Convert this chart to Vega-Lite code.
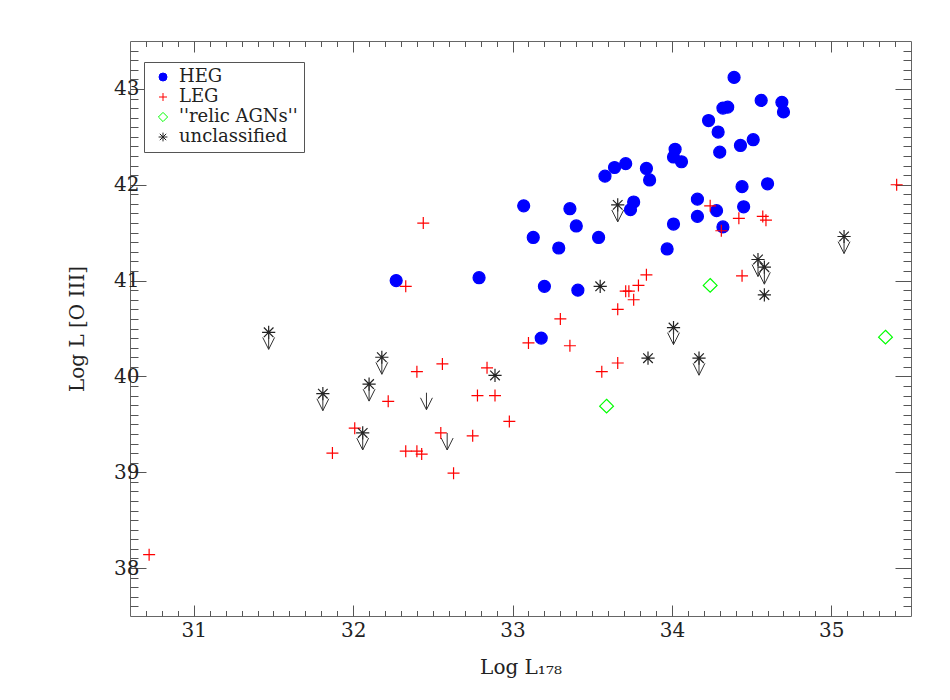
{
  "$schema": "https://vega.github.io/schema/vega-lite/v6.json",
  "autosize": "none",
  "width": 781,
  "height": 575,
  "padding": {"left": 130, "top": 41, "right": 39, "bottom": 84},
  "background": "white",
  "config": {
    "view": {"stroke": "#666", "strokeWidth": 1},
    "axis": {"grid": false, "domain": false, "tickColor": "#555", "tickWidth": 1, "labelFont": "DejaVu Serif", "labelFontSize": 20, "labelColor": "#222", "titleFont": "DejaVu Serif", "titleFontSize": 20, "titleFontWeight": "normal", "titleColor": "#222", "labelOverlap": false, "labelFlush": false}
  },
  "datasets": {
    "pts": [
      {"x":32.27,"y":41.00,"cls":"HEG","lim":"n"},{"x":32.79,"y":41.03,"cls":"HEG","lim":"n"},{"x":33.07,"y":41.78,"cls":"HEG","lim":"n"},{"x":33.13,"y":41.45,"cls":"HEG","lim":"n"},{"x":33.18,"y":40.40,"cls":"HEG","lim":"n"},{"x":33.20,"y":40.94,"cls":"HEG","lim":"n"},{"x":33.29,"y":41.34,"cls":"HEG","lim":"n"},{"x":33.36,"y":41.75,"cls":"HEG","lim":"n"},{"x":33.40,"y":41.57,"cls":"HEG","lim":"n"},{"x":33.41,"y":40.90,"cls":"HEG","lim":"n"},{"x":33.54,"y":41.45,"cls":"HEG","lim":"n"},{"x":33.58,"y":42.09,"cls":"HEG","lim":"n"},{"x":33.64,"y":42.18,"cls":"HEG","lim":"n"},{"x":33.71,"y":42.22,"cls":"HEG","lim":"n"},{"x":33.74,"y":41.74,"cls":"HEG","lim":"n"},{"x":33.76,"y":41.82,"cls":"HEG","lim":"n"},{"x":33.84,"y":42.17,"cls":"HEG","lim":"n"},{"x":33.86,"y":42.05,"cls":"HEG","lim":"n"},{"x":33.97,"y":41.33,"cls":"HEG","lim":"n"},{"x":34.01,"y":42.29,"cls":"HEG","lim":"n"},{"x":34.02,"y":42.37,"cls":"HEG","lim":"n"},{"x":34.01,"y":41.59,"cls":"HEG","lim":"n"},{"x":34.06,"y":42.24,"cls":"HEG","lim":"n"},{"x":34.16,"y":41.67,"cls":"HEG","lim":"n"},{"x":34.16,"y":41.85,"cls":"HEG","lim":"n"},{"x":34.23,"y":42.67,"cls":"HEG","lim":"n"},{"x":34.28,"y":41.73,"cls":"HEG","lim":"n"},{"x":34.29,"y":42.55,"cls":"HEG","lim":"n"},{"x":34.30,"y":42.34,"cls":"HEG","lim":"n"},{"x":34.32,"y":41.56,"cls":"HEG","lim":"n"},{"x":34.32,"y":42.80,"cls":"HEG","lim":"n"},{"x":34.35,"y":42.81,"cls":"HEG","lim":"n"},{"x":34.39,"y":43.12,"cls":"HEG","lim":"n"},{"x":34.43,"y":42.41,"cls":"HEG","lim":"n"},{"x":34.44,"y":41.98,"cls":"HEG","lim":"n"},{"x":34.45,"y":41.77,"cls":"HEG","lim":"n"},{"x":34.51,"y":42.47,"cls":"HEG","lim":"n"},{"x":34.56,"y":42.88,"cls":"HEG","lim":"n"},{"x":34.60,"y":42.01,"cls":"HEG","lim":"n"},{"x":34.69,"y":42.86,"cls":"HEG","lim":"n"},{"x":34.70,"y":42.76,"cls":"HEG","lim":"n"},
      {"x":30.72,"y":38.14,"cls":"LEG","lim":"n"},{"x":31.87,"y":39.20,"cls":"LEG","lim":"n"},{"x":32.01,"y":39.46,"cls":"LEG","lim":"n"},{"x":32.22,"y":39.74,"cls":"LEG","lim":"n"},{"x":32.33,"y":40.94,"cls":"LEG","lim":"n"},{"x":32.33,"y":39.22,"cls":"LEG","lim":"n"},{"x":32.40,"y":39.22,"cls":"LEG","lim":"n"},{"x":32.40,"y":40.05,"cls":"LEG","lim":"n"},{"x":32.43,"y":39.19,"cls":"LEG","lim":"n"},{"x":32.44,"y":41.60,"cls":"LEG","lim":"n"},{"x":32.55,"y":39.41,"cls":"LEG","lim":"n"},{"x":32.56,"y":40.13,"cls":"LEG","lim":"n"},{"x":32.63,"y":38.99,"cls":"LEG","lim":"n"},{"x":32.75,"y":39.38,"cls":"LEG","lim":"n"},{"x":32.78,"y":39.80,"cls":"LEG","lim":"n"},{"x":32.84,"y":40.09,"cls":"LEG","lim":"n"},{"x":32.89,"y":39.80,"cls":"LEG","lim":"n"},{"x":32.98,"y":39.53,"cls":"LEG","lim":"n"},{"x":33.10,"y":40.35,"cls":"LEG","lim":"n"},{"x":33.30,"y":40.60,"cls":"LEG","lim":"n"},{"x":33.36,"y":40.32,"cls":"LEG","lim":"n"},{"x":33.56,"y":40.05,"cls":"LEG","lim":"n"},{"x":33.66,"y":40.14,"cls":"LEG","lim":"n"},{"x":33.66,"y":40.70,"cls":"LEG","lim":"n"},{"x":33.71,"y":40.89,"cls":"LEG","lim":"n"},{"x":33.73,"y":40.89,"cls":"LEG","lim":"n"},{"x":33.76,"y":40.80,"cls":"LEG","lim":"n"},{"x":33.79,"y":40.95,"cls":"LEG","lim":"n"},{"x":33.84,"y":41.06,"cls":"LEG","lim":"n"},{"x":34.24,"y":41.78,"cls":"LEG","lim":"n"},{"x":34.31,"y":41.52,"cls":"LEG","lim":"n"},{"x":34.42,"y":41.65,"cls":"LEG","lim":"n"},{"x":34.44,"y":41.05,"cls":"LEG","lim":"n"},{"x":34.57,"y":41.67,"cls":"LEG","lim":"n"},{"x":34.59,"y":41.63,"cls":"LEG","lim":"n"},{"x":35.41,"y":42.00,"cls":"LEG","lim":"n"},
      {"x":33.59,"y":39.69,"cls":"''relic AGNs''","lim":"n"},{"x":34.24,"y":40.95,"cls":"''relic AGNs''","lim":"n"},{"x":35.34,"y":40.41,"cls":"''relic AGNs''","lim":"n"},
      {"x":31.47,"y":40.46,"cls":"unclassified","lim":"a"},{"x":31.81,"y":39.82,"cls":"unclassified","lim":"a"},{"x":32.06,"y":39.41,"cls":"unclassified","lim":"a"},{"x":32.10,"y":39.92,"cls":"unclassified","lim":"a"},{"x":32.18,"y":40.20,"cls":"unclassified","lim":"a"},{"x":33.66,"y":41.79,"cls":"unclassified","lim":"a"},{"x":34.01,"y":40.51,"cls":"unclassified","lim":"a"},{"x":34.17,"y":40.19,"cls":"unclassified","lim":"a"},{"x":34.54,"y":41.22,"cls":"unclassified","lim":"a"},{"x":34.58,"y":41.14,"cls":"unclassified","lim":"a"},{"x":35.08,"y":41.46,"cls":"unclassified","lim":"a"},
      {"x":32.89,"y":40.01,"cls":"unclassified","lim":"n"},{"x":33.55,"y":40.94,"cls":"unclassified","lim":"n"},{"x":33.85,"y":40.19,"cls":"unclassified","lim":"n"},{"x":34.58,"y":40.85,"cls":"unclassified","lim":"n"},
      {"x":32.46,"y":39.83,"cls":"unclassified","lim":"o"},{"x":32.59,"y":39.41,"cls":"unclassified","lim":"o"}
    ]
  },
  "data": {"name": "pts"},
  "resolve": {"axis": {"x": "independent", "y": "independent"}},
  "layer": [
    {
      "transform": [{"filter": "datum.lim !== 'o'"}],
      "mark": {"type": "point", "size": 144, "strokeWidth": 1.2, "opacity": 1},
      "encoding": {
        "x": {"field": "x", "type": "quantitative", "scale": {"domain": [30.6, 35.5], "nice": false, "zero": false},
          "axis": {"orient": "bottom", "title": "Log L₁₇₈", "titlePadding": 12, "format": ".0f",
            "values": [30.7,30.8,30.9,31,31.1,31.2,31.3,31.4,31.5,31.6,31.7,31.8,31.9,32,32.1,32.2,32.3,32.4,32.5,32.6,32.7,32.8,32.9,33,33.1,33.2,33.3,33.4,33.5,33.6,33.7,33.8,33.9,34,34.1,34.2,34.3,34.4,34.5,34.6,34.7,34.8,34.9,35,35.1,35.2,35.3,35.4],
            "tickSize": {"condition": {"test": "abs(datum.value - round(datum.value)) < 0.01", "value": -11}, "value": -5.5},
            "labelExpr": "abs(datum.value - round(datum.value)) < 0.01 ? datum.label : ''",
            "labelPadding": 15}},
        "y": {"field": "y", "type": "quantitative", "scale": {"domain": [37.5, 43.5], "nice": false, "zero": false},
          "axis": {"orient": "left", "title": "Log L [O III]", "titlePadding": 26, "format": ".0f",
            "values": [37.6,37.7,37.8,37.9,38,38.1,38.2,38.3,38.4,38.5,38.6,38.7,38.8,38.9,39,39.1,39.2,39.3,39.4,39.5,39.6,39.7,39.8,39.9,40,40.1,40.2,40.3,40.4,40.5,40.6,40.7,40.8,40.9,41,41.1,41.2,41.3,41.4,41.5,41.6,41.7,41.8,41.9,42,42.1,42.2,42.3,42.4,42.5,42.6,42.7,42.8,42.9,43,43.1,43.2,43.3,43.4],
            "tickSize": {"condition": {"test": "abs(datum.value - round(datum.value)) < 0.01", "value": -16}, "value": -8},
            "labelExpr": "abs(datum.value - round(datum.value)) < 0.01 ? datum.label : ''",
            "labelPadding": 7}},
        "shape": {"field": "cls", "type": "nominal",
          "scale": {"domain": ["HEG", "LEG", "''relic AGNs''", "unclassified"],
            "range": ["circle", "M-1,0L1,0M0,-1L0,1", "M0,-1.15L1.15,0L0,1.15L-1.15,0Z", "M-1.1,0L1.1,0M0,-1.1L0,1.1M-0.8,-0.8L0.8,0.8M-0.8,0.8L0.8,-0.8"]},
          "legend": {"title": null, "orient": "none", "legendX": 14, "legendY": 21, "padding": 6, "strokeColor": "#555", "fillColor": "white", "labelFont": "DejaVu Serif", "labelFontSize": 18, "labelColor": "#222", "symbolSize": 64, "symbolStrokeWidth": 1, "rowPadding": 2, "labelOffset": 7, "symbolOffset": 4}},
        "fill": {"field": "cls", "type": "nominal",
          "scale": {"domain": ["HEG", "LEG", "''relic AGNs''", "unclassified"], "range": ["#0000ff", "transparent", "transparent", "transparent"]},
          "legend": {"title": null, "orient": "none", "legendX": 14, "legendY": 21, "padding": 6, "strokeColor": "#555", "fillColor": "white", "labelFont": "DejaVu Serif", "labelFontSize": 18, "labelColor": "#222", "symbolSize": 64, "symbolStrokeWidth": 1, "rowPadding": 2, "labelOffset": 7, "symbolOffset": 4}},
        "stroke": {"field": "cls", "type": "nominal",
          "scale": {"domain": ["HEG", "LEG", "''relic AGNs''", "unclassified"], "range": ["#0000ff", "#ff0000", "#00ff00", "#222222"]},
          "legend": {"title": null, "orient": "none", "legendX": 14, "legendY": 21, "padding": 6, "strokeColor": "#555", "fillColor": "white", "labelFont": "DejaVu Serif", "labelFontSize": 18, "labelColor": "#222", "symbolSize": 64, "symbolStrokeWidth": 1, "rowPadding": 2, "labelOffset": 7, "symbolOffset": 4}}
      }
    },
    {
      "transform": [{"filter": "datum.lim !== 'n'"}],
      "mark": {"type": "point", "shape": "M0,0L0,1M-0.35,0.3L0,1L0.35,0.3", "size": 1156, "filled": false, "stroke": "#333333", "strokeWidth": 1, "opacity": 1},
      "encoding": {
        "x": {"field": "x", "type": "quantitative",
          "axis": {"orient": "top", "title": null, "labels": false,
            "values": [30.7,30.8,30.9,31,31.1,31.2,31.3,31.4,31.5,31.6,31.7,31.8,31.9,32,32.1,32.2,32.3,32.4,32.5,32.6,32.7,32.8,32.9,33,33.1,33.2,33.3,33.4,33.5,33.6,33.7,33.8,33.9,34,34.1,34.2,34.3,34.4,34.5,34.6,34.7,34.8,34.9,35,35.1,35.2,35.3,35.4],
            "tickSize": {"condition": {"test": "abs(datum.value - round(datum.value)) < 0.01", "value": -11}, "value": -5.5}}},
        "y": {"field": "y", "type": "quantitative",
          "axis": {"orient": "right", "title": null, "labels": false,
            "values": [37.6,37.7,37.8,37.9,38,38.1,38.2,38.3,38.4,38.5,38.6,38.7,38.8,38.9,39,39.1,39.2,39.3,39.4,39.5,39.6,39.7,39.8,39.9,40,40.1,40.2,40.3,40.4,40.5,40.6,40.7,40.8,40.9,41,41.1,41.2,41.3,41.4,41.5,41.6,41.7,41.8,41.9,42,42.1,42.2,42.3,42.4,42.5,42.6,42.7,42.8,42.9,43,43.1,43.2,43.3,43.4],
            "tickSize": {"condition": {"test": "abs(datum.value - round(datum.value)) < 0.01", "value": -16}, "value": -8}}}
      }
    }
  ]
}
